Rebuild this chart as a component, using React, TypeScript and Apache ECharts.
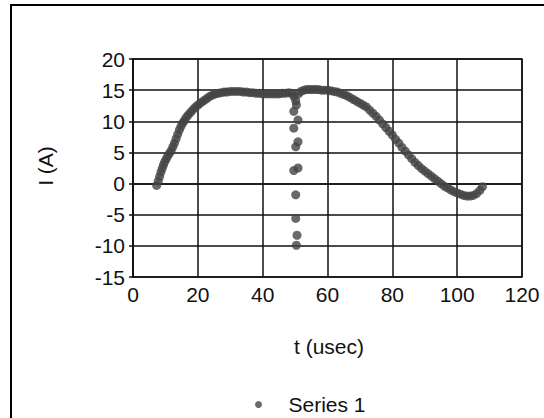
import React, { useEffect, useRef } from "react";
import * as echarts from "echarts";

const seriesName = "Series 1";
const xAxisTitle = "t (usec)";
const yAxisTitle = "I (A)";

const tValues: number[] = [
  7.3, 7.8, 8.2, 8.6, 9.0, 9.4, 9.8, 10.3, 10.8, 11.3, 11.8, 12.3, 12.8, 13.3, 13.8, 14.3, 14.8, 15.3, 15.8, 16.4,
  17.0, 17.7, 18.4, 19.1, 19.8, 20.5, 21.3, 22.1, 22.9, 23.7, 24.5, 25.4, 26.3, 27.2, 28.1, 29, 30, 31, 32, 33,
  34, 35, 36, 37, 38, 39, 40, 41, 42, 43, 44, 45, 46, 47, 48, 49, 49.6, 50.2,
  50.4, 49.6, 50.9, 49.6, 50.9, 50.2, 50.9, 49.6, 50.2, 50.2, 50.6, 50.4,
  51.0, 51.8, 52.7, 53.6, 54.5, 55.4, 56.3, 57.2, 58.1, 59,
  60, 61, 62, 63, 64, 65, 66, 67, 68, 69, 70, 71, 72, 73, 74, 75, 76, 77, 78, 79,
  80, 81, 82, 83, 84, 85, 86, 87, 88, 89, 90, 91, 92, 93, 94, 95, 96, 97, 98, 99,
  100, 101, 102, 103, 104, 105, 106, 107, 107.8,
];

const iValues: number[] = [
  -0.3, 0.4, 1.1, 1.8, 2.4, 3.0, 3.5, 4.0, 4.5, 4.9, 5.3, 5.9, 6.5, 7.2, 7.9, 8.6, 9.2, 9.7, 10.1, 10.6,
  11.0, 11.4, 11.8, 12.2, 12.5, 12.8, 13.1, 13.4, 13.7, 14.0, 14.2, 14.4, 14.5, 14.6, 14.7, 14.7, 14.8, 14.8, 14.8, 14.8,
  14.7, 14.7, 14.6, 14.6, 14.5, 14.5, 14.4, 14.4, 14.4, 14.4, 14.4, 14.4, 14.5, 14.5, 14.6, 14.5, 14.0, 13.3,
  12.6, 11.6, 10.2, 8.9, 6.7, 5.9, 2.5, 2.1, -1.8, -5.6, -8.3, -9.9,
  14.4, 14.8, 15.0, 15.1, 15.1, 15.1, 15.1, 15.1, 15.0, 15.0,
  15.0, 14.9, 14.8, 14.7, 14.5, 14.3, 14.1, 13.8, 13.5, 13.2, 12.9, 12.6, 12.3, 11.8, 11.3, 10.8, 10.2, 9.6, 9.0, 8.4,
  7.8, 7.1, 6.5, 5.8, 5.2, 4.6, 4.0, 3.4, 2.9, 2.4, 2.0, 1.6, 1.2, 0.8, 0.4, 0.0, -0.4, -0.7, -1.0, -1.3,
  -1.5, -1.7, -1.9, -2.0, -2.0, -1.9, -1.6, -1.1, -0.5,
];

const FONT = "'Liberation Sans', Arial, sans-serif";
const INK = "#111";
const MARK = "#444444";

export default function App() {
  const ref = useRef<HTMLDivElement>(null);
  useEffect(() => {
    if (!ref.current) return;
    const chart = echarts.init(ref.current, undefined, { renderer: "svg" });
    const data = tValues.map((t, i) => [t, iValues[i]]);
    chart.setOption({
      animation: false,
      backgroundColor: "#ffffff",
      grid: {
        left: 133,
        top: 59,
        right: 22,
        bottom: 141,
        show: true,
        borderColor: INK,
        borderWidth: 1.5,
      },
      xAxis: {
        type: "value",
        min: 0,
        max: 120,
        interval: 20,
        axisLine: { show: true, onZero: true, lineStyle: { color: INK, width: 1.5 } },
        axisTick: { show: false },
        axisLabel: { color: INK, fontSize: 21, fontFamily: FONT, margin: 7 },
        splitLine: { show: true, lineStyle: { color: INK, width: 1.5 } },
      },
      yAxis: {
        type: "value",
        min: -15,
        max: 20,
        interval: 5,
        axisLine: { show: true, onZero: false, lineStyle: { color: INK, width: 1.5 } },
        axisTick: { show: true, length: 4, lineStyle: { color: INK, width: 1.5 } },
        axisLabel: { color: INK, fontSize: 21, fontFamily: FONT, margin: 8 },
        splitLine: { show: true, lineStyle: { color: INK, width: 1.5 } },
      },
      legend: {
        show: true,
        left: 250,
        top: 389,
        icon: "circle",
        itemWidth: 50,
        itemHeight: 7,
        textStyle: { color: INK, fontSize: 21, fontFamily: FONT },
        data: [seriesName],
      },
      graphic: [
        {
          type: "rect",
          shape: { x: 11, y: 5, width: 620, height: 500 },
          style: { fill: "none", stroke: "#000", lineWidth: 2 },
          silent: true,
        },
        {
          type: "text",
          x: 45,
          y: 166,
          rotation: Math.PI / 2,
          style: {
            text: yAxisTitle,
            fill: INK,
            font: `21px ${FONT}`,
            align: "center",
            verticalAlign: "middle",
          },
        },
        {
          type: "text",
          x: 329,
          y: 346,
          style: {
            text: xAxisTitle,
            fill: INK,
            font: `21px ${FONT}`,
            align: "center",
            verticalAlign: "middle",
          },
        },
      ],
      series: [
        {
          name: seriesName,
          type: "scatter",
          data,
          symbol: "circle",
          symbolSize: 9,
          itemStyle: { color: MARK },
        },
      ],
    });
    return () => chart.dispose();
  }, []);
  return (
    <div
      ref={ref}
      style={{ position: "absolute", left: 0, top: 0, width: 544, height: 418 }}
    />
  );
}
